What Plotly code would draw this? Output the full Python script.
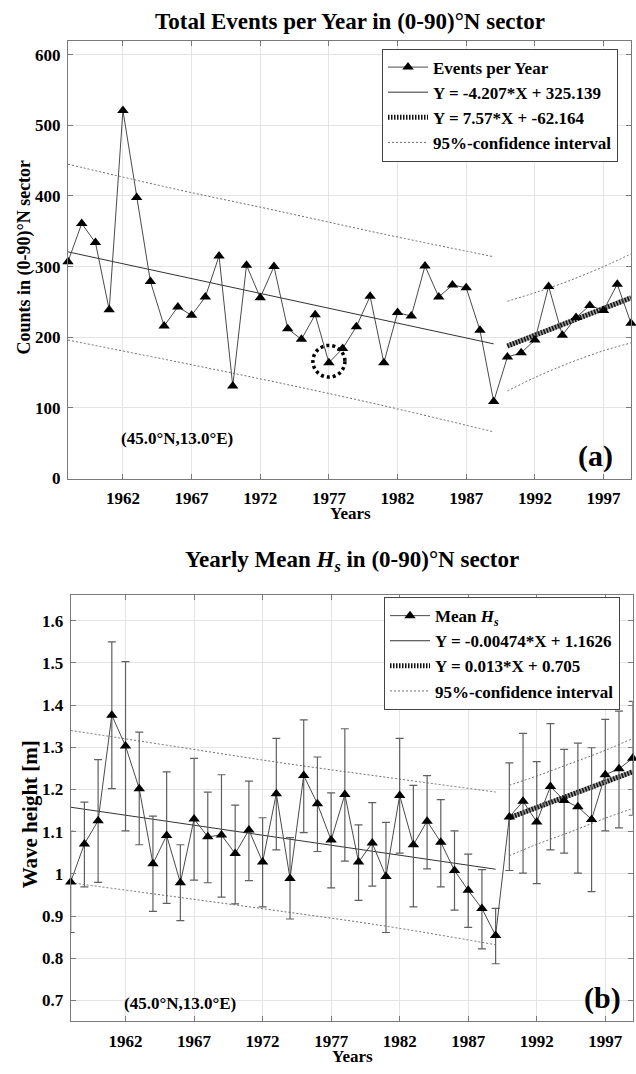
import plotly.graph_objects as go

# ---------------- data ----------------
years = list(range(1958, 2000))
events = [307, 361, 334, 239, 521, 398, 279, 216, 243, 231, 257, 315, 131, 302,
          256, 300, 212, 197, 232, 164, 184, 215, 258, 164, 235, 230, 301, 257,
          274, 270, 210, 109, 172, 178, 196, 272, 203, 228, 245, 238, 275, 220]

hs_mean = [0.981, 1.071, 1.126, 1.376, 1.303, 1.202, 1.024, 1.091, 0.979, 1.130,
           1.088, 1.092, 1.048, 1.104, 1.028, 1.190, 0.989, 1.233, 1.166, 1.080,
           1.188, 1.028, 1.073, 0.994, 1.186, 1.069, 1.125, 1.075, 1.008, 0.961,
           0.918, 0.854, 1.135, 1.172, 1.123, 1.207, 1.174, 1.159, 1.129, 1.235,
           1.249, 1.274]
hs_err_plus = [0.120, 0.099, 0.145, 0.174, 0.200, 0.134, 0.113, 0.151, 0.090, 0.144,
               0.106, 0.143, 0.115, 0.116, 0.105, 0.131, 0.097, 0.132, 0.111, 0.112,
               0.156, 0.088, 0.096, 0.128, 0.135, 0.141, 0.108, 0.101, 0.094, 0.086,
               0.092, 0.064, 0.128, 0.161, 0.143, 0.149, 0.121, 0.151, 0.170, 0.131,
               0.137, 0.135]
hs_err_minus = [0.120, 0.102, 0.146, 0.174, 0.201, 0.133, 0.113, 0.161, 0.090, 0.145,
                0.109, 0.147, 0.119, 0.120, 0.106, 0.133, 0.096, 0.135, 0.113, 0.113,
                0.158, 0.091, 0.102, 0.133, 0.137, 0.147, 0.113, 0.106, 0.094, 0.088,
                0.096, 0.067, 0.127, 0.170, 0.146, 0.150, 0.125, 0.157, 0.171, 0.133,
                0.140, 0.135]

# regression lines (endpoints)
trend1_years = [1958, 1989]
trend2_years = [1990, 1999]
ev_trend1 = [320.9, 190.6]
ev_trend2 = [187.6, 255.8]
hs_trend1 = [1.158, 1.011]
hs_trend2 = [1.133, 1.242]

# 95% confidence bands
ci1_years = [1958, 1966, 1973, 1981, 1989]
ci2_years = [1990, 1992, 1994.5, 1997, 1999]
ev_ci1_up = [445, 409, 380, 346, 314]
ev_ci1_lo = [196, 165, 137, 103, 66]
ev_ci2_up = [251, 263, 280, 300, 318]
ev_ci2_lo = [124, 143, 163.5, 181, 192]
hs_ci1_up = [1.340, 1.300, 1.265, 1.229, 1.194]
hs_ci1_lo = [0.979, 0.944, 0.913, 0.876, 0.832]
hs_ci2_up = [1.210, 1.232, 1.262, 1.293, 1.321]
hs_ci2_lo = [1.043, 1.070, 1.100, 1.132, 1.155]

xticks = [1962, 1967, 1972, 1977, 1982, 1987, 1992, 1997]
ev_ticks = [0, 100, 200, 300, 400, 500, 600]
hs_ticks = [0.7, 0.8, 0.9, 1.0, 1.1, 1.2, 1.3, 1.4, 1.5, 1.6]
hs_ticktext = ["0.7", "0.8", "0.9", "1", "1.1", "1.2", "1.3", "1.4", "1.5", "1.6"]

circled_year = 1977

# ---------------- figure ----------------
FONT = "Liberation Serif"
W, H = 636, 1074
fig = go.Figure()

def add_panel(xa, ya, legend, yvals, t1, t2, c1u, c1l, c2u, c2l, data_name,
              names, err=None):
    kw = dict(xaxis=xa, yaxis=ya, legend=legend)
    dotted = dict(color="#6e6e6e", width=1, dash="2px,2px")
    # confidence bands
    fig.add_trace(go.Scatter(x=ci1_years, y=c1u, mode="lines", line=dotted,
                             line_shape="spline", name=names[3], legendrank=4,
                             showlegend=True, **kw))
    for xs, ys in ((ci1_years, c1l), (ci2_years, c2u), (ci2_years, c2l)):
        fig.add_trace(go.Scatter(x=xs, y=ys, mode="lines", line=dotted,
                                 line_shape="spline", showlegend=False, **kw))
    # trend 1
    fig.add_trace(go.Scatter(x=trend1_years, y=t1, mode="lines",
                             line=dict(color="#333333", width=1),
                             name=names[1], legendrank=2, **kw))
    # trend 2 (hatched thick line)
    fig.add_trace(go.Scatter(x=trend2_years, y=t2, mode="lines",
                             line=dict(color="#9a9a9a", width=5),
                             showlegend=False, **kw))
    fig.add_trace(go.Scatter(x=trend2_years, y=t2, mode="lines",
                             line=dict(color="#111111", width=5, dash="1.5px,1.5px"),
                             name=names[2], legendrank=3, **kw))
    # data
    sc = dict(x=years, y=yvals, mode="lines+markers",
              line=dict(color="#4a4a4a", width=1),
              marker=dict(symbol="triangle-up", size=10, color="black"),
              name=data_name, legendrank=1, cliponaxis=False, **kw)
    if err is not None:
        sc["error_y"] = dict(type="data", array=err[0], arrayminus=err[1],
                             color="#5f5f5f", thickness=1.2, width=4)
    fig.add_trace(go.Scatter(**sc))

add_panel("x", "y", "legend", events, ev_trend1, ev_trend2, ev_ci1_up, ev_ci1_lo,
          ev_ci2_up, ev_ci2_lo, "Events per Year",
          [None, "Y = -4.207*X + 325.139", "Y = 7.57*X + -62.164", "95%-confidence interval"])
add_panel("x2", "y2", "legend2", hs_mean, hs_trend1, hs_trend2, hs_ci1_up, hs_ci1_lo,
          hs_ci2_up, hs_ci2_lo, "Mean <i>H</i><sub><i>s</i></sub>",
          [None, "Y = -0.00474*X + 1.1626", "Y = 0.013*X + 0.705", "95%-confidence interval"],
          err=(hs_err_plus, hs_err_minus))

tickfont = dict(family=FONT, size=17, color="black", weight="bold")
axis_common = dict(showgrid=True, gridcolor="#e4e4e4", gridwidth=1,
                   showline=True, linecolor="#7a7a7a", linewidth=1,
                   mirror="ticks", ticks="inside", ticklen=5, tickcolor="#7a7a7a",
                   zeroline=False, tickfont=tickfont)

top_dom_y = [1 - 483 / H, 1 - 41 / H]
bot_dom_y = [1 - 1030.7 / H, 1 - 600.6 / H]

legend_font = dict(family=FONT, size=17, color="black", weight="bold")
fig.update_layout(
    width=W, height=H, autosize=False,
    margin=dict(l=0, r=0, t=0, b=0),
    paper_bgcolor="white", plot_bgcolor="white",
    xaxis=dict(domain=[68 / W, 631 / W], range=[1958, 1999], tickvals=xticks,
               anchor="y", ticklabelstandoff=4, **axis_common),
    yaxis=dict(domain=top_dom_y, range=[0, 620], tickvals=ev_ticks, anchor="x",
               ticklabelstandoff=3, **axis_common),
    xaxis2=dict(domain=[70.7 / W, 632.7 / W], range=[1958, 1999], tickvals=xticks,
                anchor="y2", ticklabelstandoff=4, **axis_common),
    yaxis2=dict(domain=bot_dom_y, range=[0.651, 1.661], tickvals=hs_ticks,
                ticktext=hs_ticktext, anchor="x2", ticklabelstandoff=3, **axis_common),
    legend=dict(x=618 / W, xanchor="right", y=1 - 49 / H, yanchor="top",
                bgcolor="white", bordercolor="#444444", borderwidth=1,
                font=legend_font, tracegroupgap=0, itemwidth=40),
    legend2=dict(x=620 / W, xanchor="right", y=1 - 602.7 / H, yanchor="top",
                 bgcolor="white", bordercolor="#444444", borderwidth=1,
                 font=legend_font, tracegroupgap=0, itemwidth=40),
    showlegend=True,
)

# dotted circle around the marked year in the top panel
ci = years.index(circled_year)
rx = 16 / (563 / 41)       # 16 px radius in x data units
ry = 16 / (442 / 620)      # 16 px radius in y data units
fig.add_shape(type="circle", xref="x", yref="y",
              x0=circled_year - rx, x1=circled_year + rx,
              y0=events[ci] + 2 - ry, y1=events[ci] + 2 + ry,
              line=dict(color="black", width=3.5, dash="3px,3px"))

def ann(text, x, y, size, angle=0, xanchor="center"):
    fig.add_annotation(text=text, x=x / W, y=1 - y / H, xref="paper", yref="paper",
                       showarrow=False, textangle=angle, xanchor=xanchor, yanchor="middle",
                       font=dict(family=FONT, size=size, color="black", weight="bold"))

ann("Total Events per Year in (0-90)°N sector", 350, 22, 23)
ann("Yearly Mean <i>H</i><sub><i>s</i></sub> in (0-90)°N sector", 352, 566, 23)
ann("Counts in (0-90)°N sector", 25, 260, 18, angle=-90)
ann("Wave height [m]", 30, 822, 21, angle=-90)
ann("Years", 350, 518, 17)
ann("Years", 352, 1066, 17)
ann("(45.0°N,13.0°E)", 177, 443, 17)
ann("(45.0°N,13.0°E)", 180, 1013, 17)
ann("(a)", 595, 460, 30)
ann("(b)", 602, 1007, 30)

fig.write_html("out.html")
